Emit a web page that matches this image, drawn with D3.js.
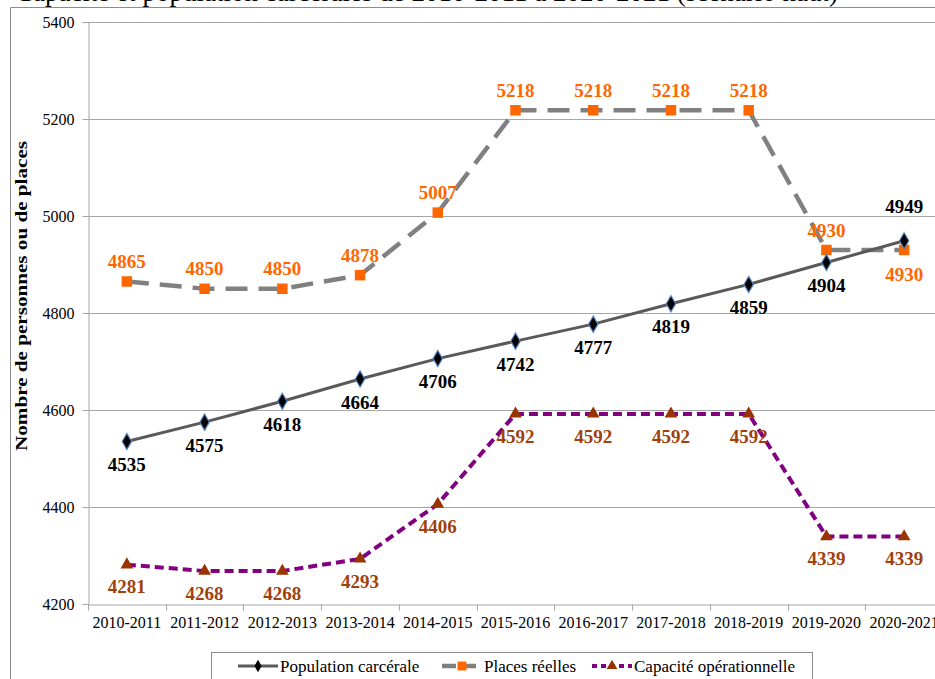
<!DOCTYPE html>
<meta charset="utf-8">
<script src="https://d3js.org/d3.v7.min.js"></script>
<style>
  body { margin: 0; background: #fff; }
  text { font-family: "Liberation Serif", "Times New Roman", serif; }
</style>
<div id="chart"></div>
<script>
  // data
  const years = ["2010-2011", "2011-2012", "2012-2013", "2013-2014", "2014-2015", "2015-2016",
    "2016-2017", "2017-2018", "2018-2019", "2019-2020", "2020-2021"];
  const population = [4535, 4575, 4618, 4664, 4706, 4742, 4777, 4819, 4859, 4904, 4949];
  const places = [4865, 4850, 4850, 4878, 5007, 5218, 5218, 5218, 5218, 4930, 4930];
  const capacite = [4281, 4268, 4268, 4293, 4406, 4592, 4592, 4592, 4592, 4339, 4339];
  // label side: -1 above the point, 1 below
  const popSide = [1, 1, 1, 1, 1, 1, 1, 1, 1, 1, -1];
  const placesSide = [-1, -1, -1, -1, -1, -1, -1, -1, -1, -1, 1];
  const capSide = [1, 1, 1, 1, 1, 1, 1, 1, 1, 1, 1];
  const yTicks = [4200, 4400, 4600, 4800, 5000, 5200, 5400];

  const serif = "Liberation Serif, Times New Roman, serif";
  const W = 935, H = 679;
  const svg = d3.select("#chart").append("svg")
    .attr("width", W).attr("height", H)
    .attr("font-family", serif);

  // title, cut off by the top edge as in the source
  svg.append("text")
    .attr("x", 15).attr("y", 1)
    .attr("font-size", 27)
    .text("Capacité et population carcérales de 2010-2011 à 2020-2021 (scénario haut)");
  // outer frame
  svg.append("path")
    .attr("d", `M10.5,${H} V7.5 H${W}`)
    .attr("fill", "none").attr("stroke", "#8c8c8c");

  const x = d3.scaleBand().domain(years).range([88, 943]);
  const y = d3.scaleLinear().domain([4200, 5400]).range([604, 22]);
  const cx = d => x(d) + x.bandwidth() / 2;

  // gridlines
  svg.append("g").selectAll("line")
    .data(yTicks.slice(1))
    .join("line")
    .attr("x1", 88).attr("x2", W)
    .attr("y1", d => Math.round(y(d)) + 0.5).attr("y2", d => Math.round(y(d)) + 0.5)
    .attr("stroke", "#a6a6a6");

  // y axis
  const yAxis = svg.append("g")
    .attr("transform", "translate(88.5,0)")
    .call(d3.axisLeft(y).tickValues(yTicks).tickSize(6).tickPadding(8).tickFormat(d3.format("d")));
  yAxis.attr("font-family", serif);
  yAxis.select(".domain").attr("stroke", "#a6a6a6");
  yAxis.selectAll(".tick line").attr("stroke", "#a6a6a6");
  yAxis.selectAll("text").attr("font-size", 16).attr("fill", "#000");

  // x axis, ticks on the category boundaries
  const xAxis = svg.append("g")
    .attr("transform", `translate(0,${y(4200) + 0.5})`)
    .call(d3.axisBottom(x).tickSize(0).tickPadding(12));
  xAxis.attr("font-family", serif);
  xAxis.select(".domain").attr("stroke", "#a6a6a6");
  xAxis.selectAll("text").attr("font-size", 16).attr("fill", "#000");
  xAxis.selectAll(".bound")
    .data(years)
    .join("line")
    .attr("class", "bound")
    .attr("x1", d => Math.round(x(d)) + 0.5).attr("x2", d => Math.round(x(d)) + 0.5)
    .attr("y1", 0).attr("y2", 6)
    .attr("stroke", "#a6a6a6");

  // y axis title
  svg.append("text")
    .attr("transform", "translate(27,296) rotate(-90)")
    .attr("text-anchor", "middle")
    .attr("font-size", 16).attr("font-weight", "bold")
    .attr("textLength", 310).attr("lengthAdjust", "spacingAndGlyphs")
    .text("Nombre de personnes ou de places");

  const line = d3.line()
    .x((d, i) => cx(years[i]))
    .y(d => y(d));

  // series lines
  svg.append("path").datum(places)
    .attr("d", line).attr("fill", "none")
    .attr("stroke", "#808080").attr("stroke-width", 4.5)
    .attr("stroke-dasharray", "22,11");
  svg.append("path").datum(capacite)
    .attr("d", line).attr("fill", "none")
    .attr("stroke", "#800080").attr("stroke-width", 4)
    .attr("stroke-dasharray", "9,5");
  svg.append("path").datum(population)
    .attr("d", line).attr("fill", "none")
    .attr("stroke", "#595959").attr("stroke-width", 3);

  // markers
  svg.append("g").selectAll("path")
    .data(places).join("path")
    .attr("transform", (d, i) => `translate(${cx(years[i])},${y(d)})`)
    .attr("d", d3.symbol(d3.symbolSquare, 110))
    .attr("fill", "#ff6600");
  svg.append("g").selectAll("path")
    .data(capacite).join("path")
    .attr("transform", (d, i) => `translate(${cx(years[i])},${y(d)})`)
    .attr("d", d3.symbol(d3.symbolTriangle, 70))
    .attr("fill", "#993300");
  svg.append("g").selectAll("path")
    .data(population).join("path")
    .attr("transform", (d, i) => `translate(${cx(years[i])},${y(d)})`)
    .attr("d", d3.symbol(d3.symbolDiamond, 75))
    .attr("fill", "#000").attr("stroke", "#4f81bd").attr("stroke-width", 1.2);

  // data labels
  function labels(values, sides, color, above, below) {
    svg.append("g").selectAll("text")
      .data(values).join("text")
      .attr("x", (d, i) => cx(years[i]))
      .attr("y", (d, i) => y(d) + (sides[i] > 0 ? below : -above))
      .attr("dy", "0.35em")
      .attr("text-anchor", "middle")
      .attr("font-size", 19).attr("font-weight", "bold")
      .attr("fill", color)
      .text(d => d);
  }
  labels(population, popSide, "#000", 34, 23);
  labels(places, placesSide, "#ff6600", 20, 24);
  labels(capacite, capSide, "#a0410d", 20, 22);

  // legend
  const leg = svg.append("g");
  leg.append("rect")
    .attr("x", 211.5).attr("y", 652.5).attr("width", 601).attr("height", 40)
    .attr("fill", "#fff").attr("stroke", "#8c8c8c");
  const legItems = [
    { name: "Population carcérale", x: 238, color: "#595959", dash: null, w: 3, sym: d3.symbolDiamond, fill: "#000", size: 45 },
    { name: "Places réelles", x: 442, color: "#808080", dash: "14,6", w: 4.5, sym: d3.symbolSquare, fill: "#ff6600", size: 80 },
    { name: "Capacité opérationnelle", x: 592, color: "#800080", dash: "5,4", w: 4, sym: d3.symbolTriangle, fill: "#993300", size: 50 }
  ];
  legItems.forEach(it => {
    leg.append("line")
      .attr("x1", it.x).attr("x2", it.x + 40).attr("y1", 666).attr("y2", 666)
      .attr("stroke", it.color).attr("stroke-width", it.w)
      .attr("stroke-dasharray", it.dash);
    leg.append("path")
      .attr("transform", `translate(${it.x + 20},666)`)
      .attr("d", d3.symbol(it.sym, it.size))
      .attr("fill", it.fill);
    leg.append("text")
      .attr("x", it.x + 42).attr("y", 666).attr("dy", "0.35em")
      .attr("font-size", 17)
      .text(it.name);
  });
</script>
